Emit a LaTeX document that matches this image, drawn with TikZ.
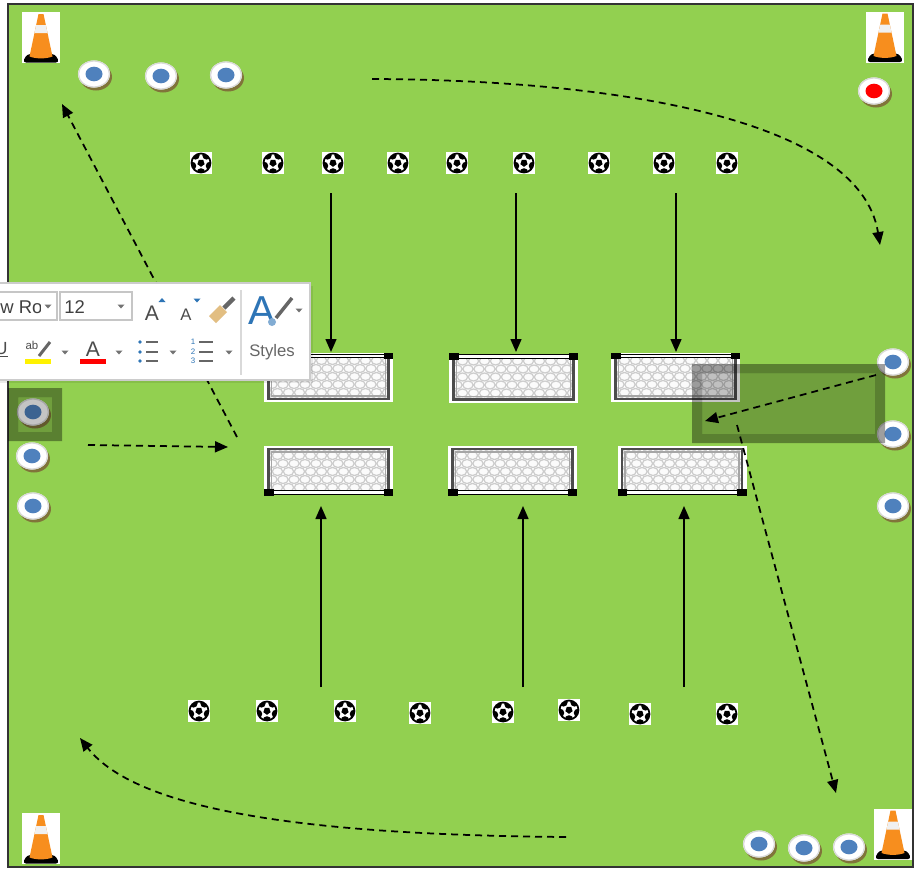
\documentclass[tikz,border=0pt]{standalone}
\usepackage{fontspec}
\newfontfamily\uifont{Liberation Sans}
\usepackage{tikz}
\usetikzlibrary{arrows.meta}
\definecolor{pitch}{RGB}{146,208,80}
\definecolor{discblue}{RGB}{79,129,189}
\definecolor{discred}{RGB}{255,0,0}
\definecolor{discshade}{RGB}{128,116,58}
\definecolor{coneorange}{RGB}{247,142,30}
\definecolor{uiblue}{RGB}{46,117,182}
\definecolor{brushtan}{RGB}{226,190,130}
\tikzset{
  tip/.style={-{Triangle[length=2.6mm, width=2.2mm]}}
}

\begin{document}
\begin{tikzpicture}[
  % one unit = one pixel of the drill sheet, y grows downwards
  x=0.2mm, y=-0.2mm,
  % solid line: shot at goal
  shot/.style = {tip, draw=black, line width=0.3mm},
  % dashed line: player run
  run/.style  = {tip, draw=black, line width=0.35mm,
                 dash pattern=on 1.4mm off 1mm},
  % toolbar labels
  ui/.style   = {font=\uifont, inner sep=0pt},
]

% ──────────────────────────
%  Helper macros for the drill pieces
% ──────────
% marker disc: centre x, centre y, centre colour
\newcommand{\fielddisc}[3]{%
  \fill[discshade] ({#1+2},{#2+3}) ellipse (16 and 13.5);
  \fill[white] (#1,#2) ellipse (16 and 13.5);
  \draw[gray!30, line width=0.25mm] (#1,#2) ellipse (15.5 and 13);
  \fill[#3] (#1,#2) ellipse (8.5 and 7.3);
}
% ball on a white tile
\newcommand{\fieldball}[2]{%
  \begin{scope}[shift={(#1,#2)}]
    \fill[white] (-11,-11) rectangle (11,11);
    \begin{scope}
      \clip (0,0) circle (9.5);
      \foreach \a in {18,90,162,234,306}
        \fill[black] (\a:9.5) circle (4.3);
    \end{scope}
    \fill[black] (90:3.8) -- (162:3.8) -- (234:3.8) -- (306:3.8) -- (18:3.8) -- cycle;
    \draw[black, line width=0.35mm] (0,0) circle (9.5);
  \end{scope}}
% corner cone on a white tile
\newcommand{\fieldcone}[2]{%
  \begin{scope}[shift={(#1,#2)}]
    \fill[white] (-19,-25.5) rectangle (19,25.5);
    \fill[black, rounded corners=2pt] (-18.5,25) -- (-14,16.5) -- (14,16.5) -- (18.5,25) -- cycle;
    \fill[coneorange] (-2.5,-23.5) -- (2.5,-23.5) -- (11.5,19)
      .. controls (5,21.5) and (-5,21.5) .. (-11.5,19) -- cycle;
    \fill[white!88!gray] (-4.8,-12.5) -- (4.8,-12.5) -- (6.5,-4.5) -- (-6.5,-4.5) -- cycle;
  \end{scope}}
% goal: centre x, centre y, 1 = crossbar on top, -1 = crossbar below
\newcommand{\fieldgoal}[3]{%
  \begin{scope}[shift={(#1,#2)}, yscale=#3]
    \fill[white] (-64.5,-24.5) rectangle (64.5,24.5);
    \begin{scope}
      \clip (-60,-20) rectangle (60,21);
      \foreach \j in {0,...,5}
        \foreach \i in {0,...,11}
          \draw[gray!40, fill=white!97!gray, line width=0.25mm]
            ({-62+11*\i+5.5*mod(\j,2)},{-17+8*\j}) ellipse (5.2 and 4);
    \end{scope}
    \draw[black!70, line width=0.45mm] (-60,-19) -- (-60,21.5) -- (60,21.5) -- (60,-19);
    \draw[black!35, line width=0.25mm] (-57,-19) -- (-57,18.5) -- (57,18.5) -- (57,-19);
    \draw[black, line width=0.2mm, fill=white] (-56,-23.5) rectangle (56,-20);
    \fill[black] (-64.5,-25) rectangle (-55,-18.5);
    \fill[black] (55,-25) rectangle (64.5,-18.5);
  \end{scope}}
% selection frame laid over the pitch
\newcommand{\selframe}[4]{%
  \fill[black, opacity=0.38, even odd rule]
    (#1,#2) rectangle (#3,#4) ({#1+10},{#2+9}) rectangle ({#3-10},{#4-9});
  \fill[black, opacity=0.23] ({#1+10},{#2+9}) rectangle ({#3-10},{#4-9});
}
% small grey drop-down triangle of the toolbar
\newcommand{\dropdown}[2]{%
  \fill[black!55] ({#1-3.5},{#2-1.5}) -- ({#1+3.5},{#2-1.5}) -- (#1,{#2+2.5}) -- cycle;
}

\useasboundingbox (0,0) rectangle (919,870);
\fill[white] (0,0) rectangle (919,870);

% ═══════════════════════════════
%  PITCH
% ═══════════════════
\draw[fill=pitch, draw=black!80, line width=0.35mm] (8,4) rectangle (913,867);

% corner cones
\foreach \x/\y in {41/37.5, 885/37, 41/838.5, 893/834}
  \fieldcone{\x}{\y};

% marker discs
\foreach \x/\y in {94/74, 161/76, 226/75,
                   33/412, 32/456, 33/506,
                   893/362, 893/434, 893/506,
                   759/844, 804/848, 849/847}
  \fielddisc{\x}{\y}{discblue};
\fielddisc{874}{91}{discred}

% two rows of balls
\foreach \x in {201,273,333,398,457,524,599,664,727}
  \fieldball{\x}{163};
\foreach \x/\y in {199/711, 267/711, 345/711, 420/713,
                   503/712, 569/710, 640/714, 727/714}
  \fieldball{\x}{\y};

% ═══════════════════════════════
%  GOALS  (three facing up, three facing down)
% ═══════════════════
\fieldgoal{328.5}{377.5}{1}
\fieldgoal{513.5}{378}{1}
\fieldgoal{675.5}{377.5}{1}
\fieldgoal{328.5}{470.5}{-1}
\fieldgoal{512.5}{470.5}{-1}
\fieldgoal{682}{470.5}{-1}

% ───────────────────────────
%  Shots
% ────────────────
\foreach \n/\x in {1/331, 2/516, 3/676} {
  \coordinate (north\n) at (\x,193);
  \coordinate (mouthN\n) at (\x,352);
  \draw[shot] (north\n) -- (mouthN\n);
}
\foreach \n/\x in {1/321, 2/523, 3/684} {
  \coordinate (south\n) at (\x,687);
  \coordinate (mouthS\n) at (\x,506);
  \draw[shot] (south\n) -- (mouthS\n);
}

% ───────────────────────────
%  Runs
% ────────────────
\coordinate (runA) at (372,79);  \coordinate (runAend) at (880,245);
\coordinate (runB) at (237,437); \coordinate (runBend) at (62,104);
\coordinate (runC) at (88,445);  \coordinate (runCend) at (228,447);
\coordinate (runD) at (876,375); \coordinate (runDend) at (705,421);
\coordinate (runE) at (737,425); \coordinate (runEend) at (836,793);
\coordinate (runF) at (566,837); \coordinate (runFend) at (80,738);

\draw[run] (runA) .. controls (620,80) and (860,120) .. (runAend);
\draw[run] (runB) -- (runBend);
\draw[run] (runC) -- (runCend);
\draw[run] (runD) -- (runDend);
\draw[run] (runE) -- (runEend);
\draw[run] (runF) .. controls (330,835) and (140,815) .. (runFend);

% selected objects
\selframe{8}{388}{62}{441}
\selframe{692}{364}{885}{443}

% ═══════════════════════════════
%  Floating format toolbar
% ═══════════════════
\fill[black, opacity=0.08] (0,286) rectangle (313,383);
\draw[gray!40, fill=white, line width=0.25mm] (-2,283) rectangle (310,380);

% font name / size
\draw[gray!45, line width=0.25mm] (-2,292) rectangle (57,320);
\draw[gray!45, line width=0.25mm] (60,292) rectangle (132,320);
\begin{scope}
  \clip (0,292) rectangle (40,320);
  \node[ui, anchor=west, font=\uifont\fontsize{10.5}{12}\selectfont, text=black!75]
    (fontname) at (0,307) {w Ro};
\end{scope}
\node[ui, anchor=west, font=\uifont\fontsize{10.5}{12}\selectfont, text=black!75]
  (fontsize) at (64,307) {12};
\dropdown{48}{306}
\dropdown{121}{306}

% grow / shrink font
\node[ui, font=\uifont\fontsize{12}{12}\selectfont, text=black!70] (grow) at (152,313) {A};
\fill[uiblue] (158.5,302) -- (165.5,302) -- (162,298) -- cycle;
\node[ui, font=\uifont\fontsize{9.5}{10}\selectfont, text=black!70] (shrink) at (186,315) {A};
\fill[uiblue] (193.5,298.5) -- (200.5,298.5) -- (197,302.5) -- cycle;

% format painter
\fill[brushtan] (209,316) -- (220,305) -- (227,312) -- (216,323) -- cycle;
\draw[black!60, line width=0.9mm] (224,308) -- (234,298);

% separator
\draw[gray!30, line width=0.25mm] (241,290) -- (241,375);

% styles button
\node[ui, font=\uifont\fontsize{23}{23}\selectfont, text=uiblue] (styleA) at (262,311) {A};
\draw[black!60, line width=0.7mm] (276,318) -- (292,298);
\fill[uiblue!60] (272,322) circle (4);
\dropdown{299}{310}
\node[ui, font=\uifont\fontsize{9.5}{11}\selectfont, text=black!60] (styles) at (272,352) {Styles};

% underline (cut off at the edge)
\begin{scope}
  \clip (0,335) rectangle (12,370);
  \node[ui, anchor=east, font=\uifont\fontsize{10}{12}\selectfont, text=black!70]
    (under) at (8,350) {\underline{U}};
\end{scope}

% highlighter
\node[ui, font=\uifont\fontsize{6.5}{7}\selectfont, text=black!70] (hilite) at (32,345) {ab};
\draw[black!60, line width=0.6mm] (39,356) -- (50,342);
\fill[yellow] (25,359) rectangle (51,364);
\dropdown{65}{352}

% font colour
\node[ui, font=\uifont\fontsize{12}{12}\selectfont, text=black!70] (fontcol) at (93,349) {A};
\fill[red] (80,359) rectangle (106,364);
\dropdown{119}{352}

% bullets
\foreach \y in {342,352,361} {
  \fill[uiblue] (140,\y) circle (1.8);
  \draw[black!60, line width=0.25mm] (146,\y) -- (158,\y);
}
\dropdown{173}{352}

% numbering
\foreach \y/\v in {342/1, 352/2, 361/3} {
  \node[ui, font=\uifont\fontsize{4.5}{5}\selectfont, text=uiblue] (num\v) at (193,\y) {\v};
  \draw[black!60, line width=0.25mm] (199,\y) -- (213,\y);
}
\dropdown{229}{352}

\end{tikzpicture}
\end{document}
